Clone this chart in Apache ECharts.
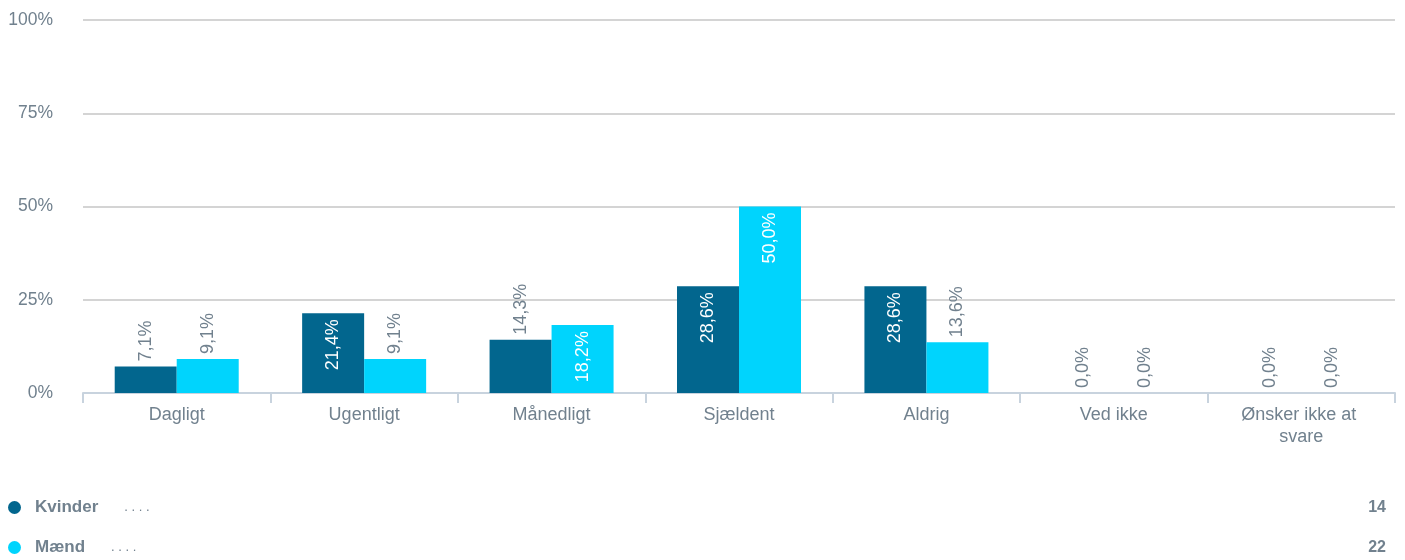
<!DOCTYPE html>
<html><head><meta charset="utf-8">
<script src="https://cdn.jsdelivr.net/npm/echarts@6/dist/echarts.min.js"></script>
<style>html,body{margin:0;padding:0;background:#fff}#c{width:1405px;height:560px}</style>
</head><body><div id="c"></div>
<script>
const categories = ['Dagligt','Ugentligt','Månedligt','Sjældent','Aldrig','Ved ikke','Ønsker ikke at svare'];
const seriesNames = ['Kvinder','Mænd'];
const kvinder = [7.1,21.4,14.3,28.6,28.6,0.0,0.0];
const maend = [9.1,9.1,18.2,50.0,13.6,0.0,0.0];
const counts = [14,22];
const yTicks = [0,25,50,75,100];

const colors = ['#02668e','#00d4fd'];
const textGrey = '#71818e';
const FONT = 'Liberation Sans, Arial, sans-serif';
const fmt = v => v.toFixed(1).replace('.', ',') + '%';

function mkData(arr){
  return arr.map(v => {
    const inside = v >= 15;
    return {
      value: v,
      label: inside ? {
        position: 'insideTop', rotate: 90, align: 'right', verticalAlign: 'middle',
        distance: 6, color: '#ffffff'
      } : {
        position: 'top', rotate: 90, align: 'left', verticalAlign: 'middle',
        distance: 5, color: textGrey
      }
    };
  });
}

const chart = echarts.init(document.getElementById('c'));
chart.setOption({
  animation: false,
  textStyle: {fontFamily: FONT},
  grid: {left: 83, right: 10, top: 20, bottom: 167, containLabel: false},
  xAxis: {
    type: 'category', data: categories,
    axisLine: {show: true, lineStyle: {color: '#c8d3de', width: 2}},
    axisTick: {show: true, length: 10, lineStyle: {color: '#c8d3de', width: 2}},
    axisLabel: {color: textGrey, fontSize: 18, margin: 11, width: 150, overflow: 'break', lineHeight: 22, interval: 0}
  },
  yAxis: {
    type: 'value', min: yTicks[0], max: yTicks[yTicks.length-1], interval: 25,
    axisLabel: {color: textGrey, fontSize: 17.5, margin: 30, formatter: v => v + '%'},
    axisLine: {show: false}, axisTick: {show: false},
    splitLine: {lineStyle: {color: '#d4d4d4', width: 2}}
  },
  legend: {
    orient: 'vertical', left: 8, top: 499, itemGap: 23, padding: 0,
    icon: 'circle', itemWidth: 13, itemHeight: 13,
    data: seriesNames,
    formatter: name => '{n|' + name + '}{d|. . . .}',
    textStyle: {
      padding: [0,0,0,9],
      rich: {
        n: {fontSize: 17, fontWeight: 'bold', color: textGrey, fontFamily: FONT},
        d: {fontSize: 13, color: textGrey, padding: [0,0,0,26], fontFamily: FONT}
      }
    }
  },
  graphic: counts.map((c, i) => ({
    type: 'text', right: 19, top: 500 + i * 40,
    style: {text: String(c), fontSize: 16, fontWeight: 'bold', fill: textGrey, fontFamily: FONT, align: 'right'}
  })),
  series: [
    {name: seriesNames[0], type: 'bar', data: mkData(kvinder), barWidth: 62, barGap: '0%', itemStyle: {color: colors[0]},
     label: {show: true, fontSize: 18, formatter: p => fmt(p.value)}},
    {name: seriesNames[1], type: 'bar', data: mkData(maend), barWidth: 62, barGap: '0%', itemStyle: {color: colors[1]},
     label: {show: true, fontSize: 18, formatter: p => fmt(p.value)}}
  ]
});
</script></body></html>
